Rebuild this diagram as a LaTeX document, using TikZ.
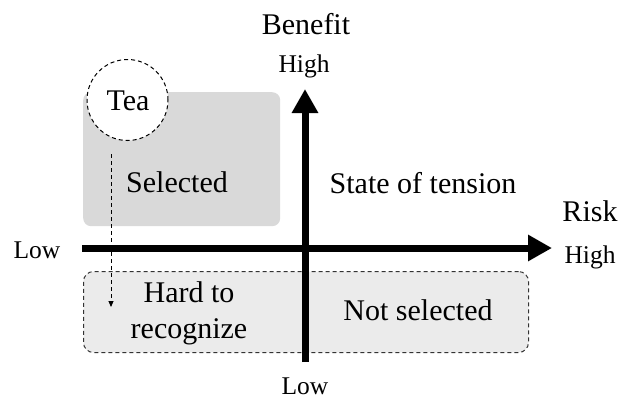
\documentclass[tikz,border=0pt]{standalone}
\usepackage{fontspec}
\setmainfont{Liberation Serif}
\usetikzlibrary{arrows.meta}
\tikzset{
  axis/.style={line width=7pt,-{Triangle[length=24pt,width=25pt]}},
  lbl/.style={inner sep=0pt,anchor=base,font=\fontsize{30}{34}\selectfont},
  small/.style={inner sep=0pt,anchor=base,font=\fontsize{25.5}{28}\selectfont},
  selbox/.style={fill=black!15,rounded corners=8pt},
  hardbox/.style={fill=black!8,draw=black!80,dashed,line width=1pt,rounded corners=10pt,dash pattern=on 4pt off 3pt},
}
\begin{document}
\begin{tikzpicture}[x=1pt,y=-1pt]
\useasboundingbox (0,0) rectangle (621,400);
% boxes
\node[selbox,minimum width=197pt,minimum height=134pt,anchor=north west] (sel) at (83,92) {};
\node[hardbox,minimum width=445pt,minimum height=81pt,anchor=north west] (hard) at (83,271) {};
% tea circle
\node[circle,draw,dashed,dash pattern=on 4pt off 3pt,line width=1pt,fill=white,minimum size=81pt,inner sep=0pt] (tea) at (127.5,100) {};
\node[lbl] (teat) at (128,110) {Tea};
% dashed arrow
\coordinate (da) at (111,154);
\coordinate (db) at (111,307);
\draw[dashed,dash pattern=on 4pt off 3pt,line width=1pt,-{Triangle[length=6pt,width=5pt]}] (da) -- (db);
% axes
\coordinate (xl) at (82,248);
\coordinate (xr) at (552,248);
\coordinate (yb) at (305,362);
\coordinate (yt) at (305,89);
\draw[axis] (xl) -- (xr);
\draw[axis] (yb) -- (yt);
% labels
\node[lbl] (benefit) at (306,34) {Benefit};
\node[small] (hight) at (304,72) {High};
\node[small] (lowb) at (305,394) {Low};
\node[small] (lowl) at (37,258) {Low};
\node[lbl] (risk) at (590,221) {Risk};
\node[small] (highr) at (590,263) {High};
\node[lbl] (selt) at (177,192) {Selected};
\node[lbl] (tens) at (423,193) {State of tension};
\node[lbl] (hardt1) at (189,302) {Hard to};
\node[lbl] (hardt2) at (189,338) {recognize};
\node[lbl] (nots) at (418,320) {Not selected};
\end{tikzpicture}
\end{document}
